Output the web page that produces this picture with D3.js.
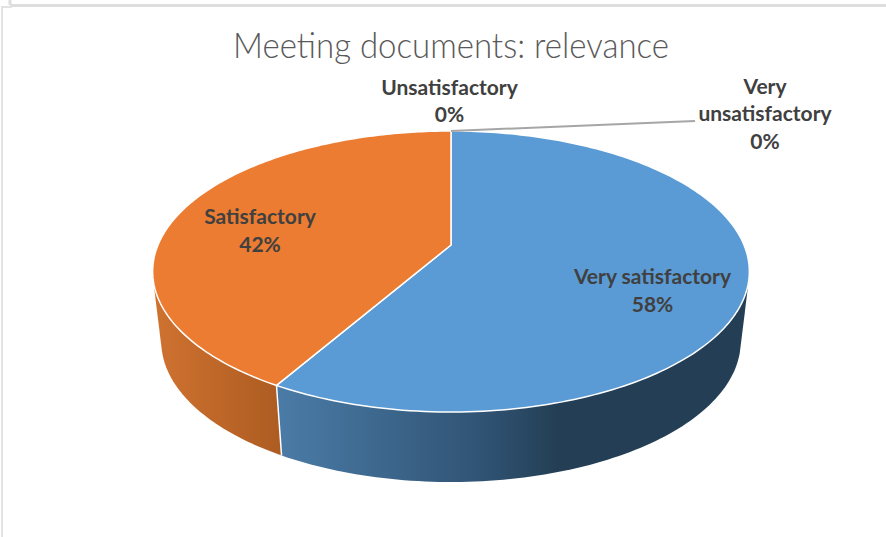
<!DOCTYPE html>
<html>
<head>
<meta charset="utf-8">
<script src="https://cdnjs.cloudflare.com/ajax/libs/d3/7.8.5/d3.min.js"></script>
<style>html,body{margin:0;padding:0;background:#fff}svg{display:block}</style>
</head>
<body>
<svg id="c" width="886" height="537"></svg>
<script>
const categories = ["Very satisfactory", "Satisfactory", "Unsatisfactory", "Very unsatisfactory"];
const values = [58.3, 41.7, 0, 0];
const percentLabels = ["58%", "42%", "0%", "0%"];
const topColors = ["#5b9bd5", "#eb7c31"];
const titleText = "Meeting documents: relevance";

const svg = d3.select("#c");
const defs = svg.append("defs");

// frame
svg.append("path").attr("d", "M10 5.5H886M10 0V5").attr("stroke", "#dedede").attr("stroke-width", 3).attr("fill", "none");
svg.append("path").attr("d", "M12 7H2V537").attr("stroke", "#e2e2e2").attr("stroke-width", 2).attr("fill", "none");

// Perspective disc: u,v on the unit circle to the page
const k = -0.1886, A = 135.5, C = 293;
const xS = d3.scaleLinear().domain([-1, 1]).range([451 - C, 451 + C]);
const yS = d3.scaleLinear().domain([-1, 1]).range([245 - A, 245 + A]);
const botXS = d3.scaleLinear().domain([-1, 1]).range([451 - C * 0.971, 451 + C * 0.971]);
const botYS = d3.scaleLinear().domain([-1, 1]).range([315 - A, 315 + A]);
function proj(t, xs, ys) {
  const u = Math.sin(t), v = -Math.cos(t), d = 1 + k * v;
  return [xs(u / d), ys(v / d)];
}
const topPt = t => proj(t, xS, yS);
const botPt = t => proj(t, botXS, botYS);
const line = d3.line();
const apex = [xS(0), yS(0)];

const arcs = d3.pie().sort(null).value(d => d)(values);
const steps = (a, b) => d3.range(0, 181).map(i => a + (b - a) * i / 180);

// walls: hull of each slice's top and bottom rim; orange first, blue over it, faces over both
const wallStops = [
  [["0%", "#4a7ba6"], ["45%", "#2f5272"], ["60%", "#243f55"], ["100%", "#243f55"]],
  [["0%", "#cf7230"], ["100%", "#ad5c22"]]
];
const wallRange = [[281, 741], [155, 281]];
[1, 0].forEach(i => {
  const a = arcs[i];
  const g = defs.append("linearGradient").attr("id", "w" + i)
    .attr("gradientUnits", "userSpaceOnUse")
    .attr("x1", wallRange[i][0]).attr("x2", wallRange[i][1]).attr("y1", 0).attr("y2", 0);
  wallStops[i].forEach(s => g.append("stop").attr("offset", s[0]).attr("stop-color", s[1]));
  const ts = steps(a.startAngle, a.endAngle);
  const hull = d3.polygonHull(ts.map(topPt).concat(ts.map(botPt)));
  svg.append("path")
    .attr("d", line(hull) + "Z")
    .attr("fill", "url(#w" + i + ")");
});
// seam
const seamT = arcs[0].endAngle;
svg.append("path").attr("d", line([topPt(seamT), botPt(seamT)])).attr("stroke", "#fff").attr("stroke-width", 1.5).attr("fill", "none");

// top faces
arcs.slice(0, 2).forEach((a, i) => {
  const ts = steps(a.startAngle, a.endAngle);
  svg.append("path")
    .attr("d", line([apex].concat(ts.map(topPt))) + "Z")
    .attr("fill", topColors[i]).attr("stroke", "#fff").attr("stroke-width", 1.5).attr("stroke-linejoin", "round");
});

// leader
svg.append("path").attr("d", line([topPt(0), [695, 121]])).attr("stroke", "#a6a6a6").attr("stroke-width", 2).attr("fill", "none");

// title
svg.append("text").attr("x", 451).attr("y", 58).attr("text-anchor", "middle")
  .attr("font-family", "Lato").attr("font-weight", 300).attr("font-size", 35).attr("fill", "#595959")
  .attr("textLength", 436).attr("lengthAdjust", "spacingAndGlyphs").text(titleText);

// labels
const labelLines = [
  [[652.5, 284, categories[0]], [652.5, 312, percentLabels[0]]],
  [[260, 224, categories[1]], [260, 252, percentLabels[1]]],
  [[449.5, 95, categories[2]], [449.5, 122, percentLabels[2]]],
  [[765, 94, "Very"], [765, 121, "unsatisfactory"], [765, 149, percentLabels[3]]]
];
labelLines.flat().forEach(l => {
  svg.append("text").attr("x", l[0]).attr("y", l[1]).attr("text-anchor", "middle")
    .attr("font-family", "Lato").attr("font-weight", 700).attr("font-size", 21).attr("fill", "#404040").text(l[2]);
});
</script>
</body>
</html>
